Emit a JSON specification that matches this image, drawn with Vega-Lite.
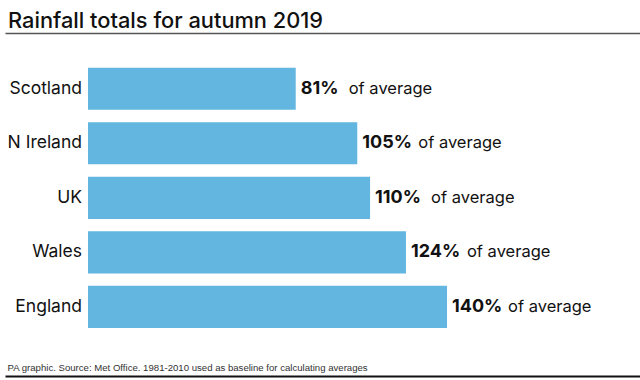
{
  "$schema": "https://vega.github.io/schema/vega-lite/v6.json",
  "width": 635,
  "height": 343,
  "autosize": {"type": "none"},
  "padding": {"left": 5, "top": 33, "right": 0, "bottom": 4},
  "background": "white",
  "config": {
    "view": {"stroke": null},
    "font": "Inter",
    "axis": {"grid": false, "ticks": false, "labels": false}
  },
  "title": {
    "text": "Rainfall totals for autumn 2019",
    "anchor": "start",
    "frame": "group",
    "font": "Inter",
    "fontSize": 21.8,
    "fontWeight": 500,
    "color": "#111111",
    "baseline": "alphabetic",
    "offset": 7,
    "dx": 3,
    "dy": 24
  },
  "data": {
    "values": [
      {"region": "Scotland", "pct": 81},
      {"region": "N Ireland", "pct": 105},
      {"region": "UK", "pct": 110},
      {"region": "Wales", "pct": 124},
      {"region": "England", "pct": 140}
    ]
  },
  "encoding": {
    "y": {
      "field": "region",
      "type": "nominal",
      "sort": null,
      "axis": null,
      "scale": {"paddingInner": 0.229, "paddingOuter": 0.761, "align": 0.42}
    }
  },
  "layer": [
    {
      "mark": {"type": "bar", "color": "#63b6e0"},
      "encoding": {
        "x": {
          "field": "pct",
          "type": "quantitative",
          "title": "",
          "scale": {"domain": [-32.37, 215.26], "nice": false, "zero": false},
          "axis": {"orient": "top", "domain": true, "domainColor": "#555555", "domainWidth": 1.5, "title": ""}
        }
      }
    },
    {
      "mark": {"type": "text", "align": "right", "baseline": "middle", "dx": -6, "fontSize": 17.5, "color": "#111111"},
      "encoding": {
        "x": {
          "datum": 0,
          "type": "quantitative",
          "axis": {
            "orient": "bottom",
            "domain": true,
            "domainColor": "#111111",
            "domainWidth": 2,
            "title": "PA graphic. Source: Met Office. 1981-2010 used as baseline for calculating averages",
            "titleFont": "Liberation Sans",
            "titleFontSize": 9.6,
            "titleFontWeight": "normal",
            "titleColor": "#333333",
            "titleAnchor": "start",
            "titleAlign": "left",
            "titleBaseline": "alphabetic",
            "titleX": 2,
            "titleY": -6
          }
        },
        "text": {"field": "region"}
      }
    },
    {
      "transform": [{"calculate": "datum.pct + '%'", "as": "label"}],
      "mark": {"type": "text", "align": "left", "baseline": "middle", "dx": 5, "fontSize": 18, "fontWeight": "bold", "color": "#111111"},
      "encoding": {
        "x": {"field": "pct", "type": "quantitative", "axis": null},
        "text": {"field": "label"}
      }
    },
    {
      "transform": [{"filter": "datum.pct < 100"}],
      "mark": {"type": "text", "align": "left", "baseline": "middle", "dx": 53, "fontSize": 16.5, "color": "#111111", "text": "of average"},
      "encoding": {
        "x": {"field": "pct", "type": "quantitative", "axis": null}
      }
    },
    {
      "transform": [{"filter": "datum.pct >= 100"}],
      "mark": {"type": "text", "align": "left", "baseline": "middle", "dx": 61, "fontSize": 16.5, "color": "#111111", "text": "of average"},
      "encoding": {
        "x": {"field": "pct", "type": "quantitative", "axis": null}
      }
    }
  ]
}
